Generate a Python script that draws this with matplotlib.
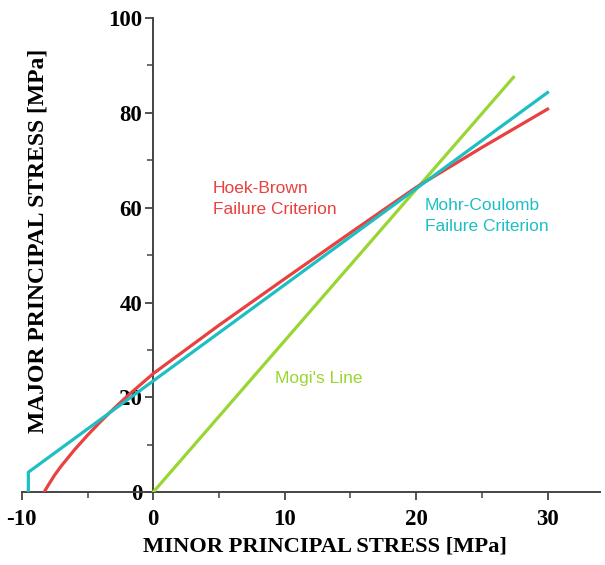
import matplotlib
matplotlib.use("Agg")
import matplotlib.pyplot as plt
from matplotlib.ticker import MultipleLocator

# Data
hb_sigma3 = [-8.3, -8.0, -7.5, -7.0, -6.0, -5.0, -4.0, -3.0, -2.0, -1.0, 0.0, 5.0, 10.0, 15.0, 20.0, 25.0, 30.0]
hb_sigma1 = [0.0, 1.4, 3.6, 5.5, 8.9, 12.0, 14.9, 17.6, 20.2, 22.6, 25.0, 35.2, 45.0, 54.7, 64.3, 72.7, 80.8]
mc_sigma3 = [-9.5, -9.5, 30.0]
mc_sigma1 = [0.0, 4.2, 84.3]
mogi_sigma3 = [0.0, 27.4]
mogi_sigma1 = [0.0, 87.5]

x_ticks = [-10, 0, 10, 20, 30]
y_ticks = [0, 20, 40, 60, 80, 100]

RED = "#E8413F"
CYAN = "#1DBFC4"
GREEN = "#99D633"

fig = plt.figure(figsize=(6.05, 5.65), dpi=100)
ax = fig.add_axes([0.036, 0.129, 0.956, 0.839])

ax.plot(mogi_sigma3, mogi_sigma1, color=GREEN, lw=2.3, zorder=3)
ax.plot(hb_sigma3, hb_sigma1, color=RED, lw=2.3, zorder=4)
ax.plot(mc_sigma3, mc_sigma1, color=CYAN, lw=2.3, zorder=5)

ax.set_xlim(-10, 34)
ax.set_ylim(0, 100)

for s in ["top", "right"]:
    ax.spines[s].set_visible(False)
ax.spines["left"].set_position(("data", 0))
ax.spines["bottom"].set_position(("data", 0))
for s in ["left", "bottom"]:
    ax.spines[s].set_color("#444444")
    ax.spines[s].set_linewidth(1.4)

ax.set_xticks(x_ticks)
ax.set_yticks(y_ticks)
ax.xaxis.set_minor_locator(MultipleLocator(5))
ax.yaxis.set_minor_locator(MultipleLocator(10))
ax.tick_params(which="major", direction="out", length=6, width=1.3, color="#444444", pad=6)
ax.tick_params(which="minor", direction="out", length=4, width=1.1, color="#444444")
ax.tick_params(axis="y", pad=2)

tickfont = dict(family="Liberation Serif", weight="bold", size=16.5)
ax.set_xticklabels([str(v) for v in x_ticks], fontdict=tickfont)
ax.set_yticklabels([str(v) for v in y_ticks], fontdict=tickfont)

ax.set_xlabel("MINOR PRINCIPAL STRESS [MPa]",
              fontdict=dict(family="Liberation Serif", weight="bold", size=16.2))
ax.set_ylabel("MAJOR PRINCIPAL STRESS [MPa]",
              fontdict=dict(family="Liberation Serif", weight="bold", size=17))
ax.xaxis.set_label_coords(0.524, -0.093)
ax.yaxis.set_label_coords(0.047, 0.53)

txtfont = dict(family="Liberation Sans", size=12.5)
ax.text(4.55, 61.9, "Hoek-Brown\nFailure Criterion", color=RED, fontdict=txtfont,
        va="center", ha="left", linespacing=1.5)
ax.text(20.65, 58.2, "Mohr-Coulomb\nFailure Criterion", color=CYAN, fontdict=txtfont,
        va="center", ha="left", linespacing=1.5)
ax.text(9.3, 24.0, "Mogi's Line", color=GREEN, fontdict=txtfont, va="center", ha="left")

fig.savefig("out.png", dpi=100)
